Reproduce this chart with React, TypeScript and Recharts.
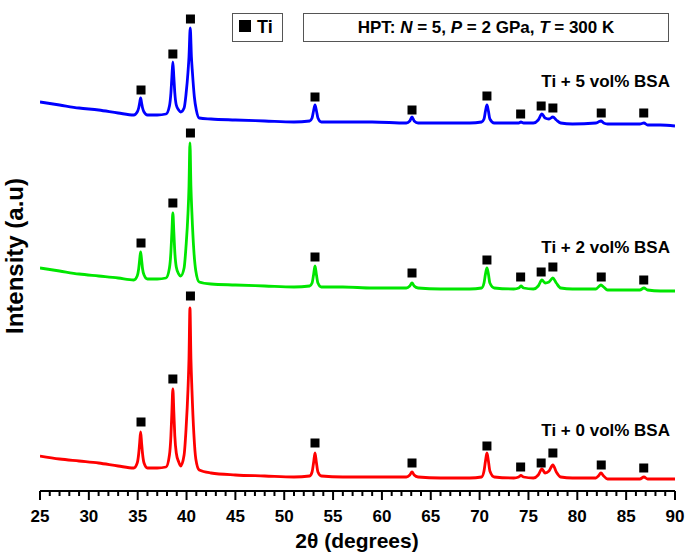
import { ComposedChart, Line, Scatter, XAxis, YAxis } from 'recharts';

// 2theta (deg) vs intensity (a.u., already stacked with offsets)
const ti0Pattern: [number, number][] = [
  [25, 33], [27, 30], [29, 28], [31, 26], [33, 23], [34.6, 21],
  [34.95, 26], [35.1, 35], [35.2, 46], [35.3, 57], [35.4, 46], [35.5, 35], [35.65, 26], [36.0, 21],
  [37.0, 21], [37.9, 22],
  [38.25, 34], [38.4, 53], [38.5, 77], [38.6, 100], [38.7, 77], [38.8, 53], [38.95, 36], [39.2, 27], [39.4, 23],
  [39.75, 34], [39.95, 60], [40.15, 100], [40.25, 130], [40.35, 181], [40.45, 130], [40.55, 100], [40.75, 55], [40.95, 30], [41.3, 19],
  [42.5, 16], [45, 14], [48, 13], [51, 12], [52.6, 13],
  [52.85, 17], [53.0, 26], [53.15, 36], [53.3, 26], [53.45, 17], [53.8, 13],
  [56, 12], [59, 12], [62.5, 12],
  [62.85, 14], [63.08, 17], [63.3, 14], [63.7, 12],
  [66, 11], [69, 11], [70.2, 12],
  [70.45, 18], [70.6, 28], [70.75, 36], [70.9, 28], [71.05, 18], [71.5, 12],
  [73.5, 11], [74.0, 12], [74.23, 13.5], [74.5, 12], [75.5, 11],
  [76.0, 14], [76.38, 20], [76.7, 16], [77.1, 18], [77.5, 24], [77.85, 17], [78.3, 12], [79.5, 11],
  [81.9, 11], [82.15, 13], [82.42, 16], [82.7, 13], [83.1, 10],
  [86.4, 10], [86.82, 12], [87.2, 10], [88.5, 10], [90, 10],
];

const ti2Pattern: [number, number][] = [
  [25, 221], [27, 218], [29, 215], [31, 213], [33, 211], [34.6, 209],
  [34.95, 213], [35.1, 220], [35.2, 229], [35.3, 237], [35.4, 229], [35.5, 220], [35.65, 214], [36.0, 210],
  [37.0, 210], [37.9, 211],
  [38.25, 221], [38.4, 237], [38.5, 257], [38.6, 276], [38.7, 257], [38.8, 237], [38.95, 222], [39.2, 215], [39.4, 213],
  [39.75, 221], [39.95, 243], [40.15, 276], [40.25, 302], [40.35, 346], [40.45, 302], [40.55, 276], [40.75, 238], [40.95, 218], [41.3, 207],
  [42.5, 205], [45, 204], [48, 203], [51, 202], [52.6, 203],
  [52.85, 206], [53.0, 214], [53.15, 223], [53.3, 214], [53.45, 206], [53.8, 202],
  [56, 202], [59, 201], [62.5, 201],
  [62.85, 203], [63.08, 206], [63.3, 203], [63.7, 201],
  [66, 200], [69, 200], [70.2, 201],
  [70.45, 206], [70.6, 215], [70.75, 221], [70.9, 215], [71.05, 206], [71.5, 201],
  [73.5, 200], [74.0, 201], [74.23, 203], [74.5, 201], [75.5, 200],
  [76.0, 203], [76.38, 209], [76.7, 206], [77.1, 207], [77.5, 211], [77.85, 206], [78.3, 201], [79.5, 200],
  [81.9, 200], [82.15, 202], [82.42, 204], [82.7, 202], [83.1, 199],
  [86.4, 199], [86.82, 201], [87.2, 199], [88.5, 198], [90, 198],
];

const ti5Pattern: [number, number][] = [
  [25, 387], [27, 384], [29, 381], [31, 379], [33, 376], [34.6, 374],
  [34.95, 377], [35.1, 381], [35.2, 386], [35.3, 391], [35.4, 386], [35.5, 381], [35.65, 377], [36.0, 374],
  [37.0, 374], [37.9, 375],
  [38.25, 383], [38.4, 396], [38.5, 412], [38.6, 427], [38.7, 412], [38.8, 396], [38.95, 384], [39.2, 379], [39.4, 377],
  [39.75, 381], [39.95, 395], [40.15, 417], [40.25, 432], [40.38, 461], [40.5, 432], [40.6, 417], [40.8, 392], [41.0, 379], [41.3, 371],
  [42.5, 370], [45, 369], [48, 368], [51, 367], [52.6, 368],
  [52.85, 371], [53.0, 378], [53.15, 384], [53.3, 378], [53.45, 371], [53.8, 367],
  [56, 367], [59, 367], [62.5, 366],
  [62.85, 368], [63.08, 372], [63.3, 368], [63.7, 366],
  [66, 366], [69, 366], [70.2, 367],
  [70.45, 370], [70.6, 378], [70.75, 384], [70.9, 378], [71.05, 370], [71.5, 366],
  [73.5, 366], [74.0, 366], [74.23, 367], [74.5, 366], [75.5, 366],
  [76.0, 369], [76.38, 375], [76.7, 371], [77.1, 370], [77.5, 372], [77.85, 369], [78.3, 366], [79.5, 365],
  [81.9, 366], [82.15, 367], [82.42, 368], [82.7, 366], [83.1, 365],
  [86.4, 365], [86.82, 366], [87.2, 364], [88.5, 364], [90, 363],
];

// Ti reflections marked with squares
const peakTheta = [35.34, 38.6, 40.4, 53.15, 63.08, 70.75, 74.2, 76.3, 77.5, 82.45, 86.8];
const ti0Marks = [67, 110, 193, 46, 26, 43, 22, 26, 36, 24, 21];
const ti2Marks = [246, 286, 356, 232, 216, 229, 212, 217, 222, 212, 209];
const ti5Marks = [399, 435, 470, 392, 379, 393, 375, 383, 381, 376, 376];

const xTicks = Array.from({ length: 66 }, (_, i) => 25 + i);

const FONT = '"Liberation Sans", Arial, sans-serif';

const toPoints = (arr: [number, number][]) => arr.map(([x, y]) => ({ x, y }));
const toMarks = (ys: number[]) => peakTheta.map((x, i) => ({ x, y: ys[i] }));

const XTick = (props: any) => {
  const { x, y, payload } = props;
  const v = payload.value;
  const major = v % 5 === 0;
  return (
    <g>
      <line x1={x} x2={x} y1={y} y2={y + (major ? 9 : 5)} stroke="#000" strokeWidth={2} />
      {major && (
        <text x={x} y={y + 31} textAnchor="middle" fontFamily={FONT} fontWeight="bold" fontSize={17} fill="#000">
          {v}
        </text>
      )}
    </g>
  );
};

const SquareMark = (props: any) => (
  <rect x={props.cx - 4.5} y={props.cy - 4.5} width={9} height={9} fill="#000" />
);

const series = [
  { name: 'Ti + 0 vol% BSA', data: ti0Pattern, marks: ti0Marks, color: '#ff0000' },
  { name: 'Ti + 2 vol% BSA', data: ti2Pattern, marks: ti2Marks, color: '#00e600' },
  { name: 'Ti + 5 vol% BSA', data: ti5Pattern, marks: ti5Marks, color: '#0000ff' },
];

export default function App() {
  return (
    <div style={{ position: 'absolute', left: 0, top: 0, width: 685, height: 560, background: '#fff' }}>
      <ComposedChart width={685} height={560} margin={{ top: 3, right: 10, bottom: 0, left: 40 }}>
        <XAxis
          dataKey="x"
          type="number"
          domain={[25, 90]}
          ticks={xTicks}
          interval={0}
          tickSize={0}
          tickMargin={0}
          tick={<XTick />}
          height={69}
          axisLine={{ stroke: '#000', strokeWidth: 2 }}
          allowDataOverflow
        />
        <XAxis
          xAxisId="top"
          orientation="top"
          type="number"
          domain={[25, 90]}
          tick={false}
          tickLine={false}
          height={0}
          axisLine={{ stroke: '#000', strokeWidth: 2 }}
        />
        <YAxis
          dataKey="y"
          type="number"
          domain={[-2, 486]}
          tick={false}
          tickLine={false}
          width={0}
          axisLine={{ stroke: '#000', strokeWidth: 2 }}
          allowDataOverflow
        />
        <YAxis
          yAxisId="right"
          orientation="right"
          type="number"
          domain={[-2, 486]}
          tick={false}
          tickLine={false}
          width={0}
          axisLine={{ stroke: '#000', strokeWidth: 2 }}
        />
        {series.map((s) => (
          <Line
            key={s.name}
            data={toPoints(s.data)}
            dataKey="y"
            type="monotone"
            stroke={s.color}
            strokeWidth={2.8}
            dot={false}
            isAnimationActive={false}
          />
        ))}
        {series.map((s) => (
          <Scatter
            key={s.name + '-marks'}
            data={toMarks(s.marks)}
            dataKey="y"
            shape={<SquareMark />}
            isAnimationActive={false}
          />
        ))}
      </ComposedChart>
      <svg
        width={685}
        height={560}
        style={{ position: 'absolute', left: 0, top: 0, pointerEvents: 'none' }}
        fontFamily={FONT}
        fontWeight="bold"
      >
        <rect x={232.5} y={13.5} width={50} height={28} fill="#fff" stroke="#555" strokeWidth={1} />
        <rect x={239} y={20} width={12} height={12} fill="#000" />
        <text x={257} y={33} fontSize={18}>Ti</text>
        <rect x={303.5} y={13.5} width={365} height={28} fill="#fff" stroke="#555" strokeWidth={1} />
        <text x={486} y={33} fontSize={17} textAnchor="middle">
          HPT: <tspan fontStyle="italic">N</tspan> = 5, <tspan fontStyle="italic">P</tspan> = 2 GPa,{' '}
          <tspan fontStyle="italic">T</tspan> = 300 K
        </text>
        <text x={670} y={87} fontSize={17} textAnchor="end">Ti + 5 vol% BSA</text>
        <text x={670} y={253} fontSize={17} textAnchor="end">Ti + 2 vol% BSA</text>
        <text x={670} y={436} fontSize={17} textAnchor="end">Ti + 0 vol% BSA</text>
        <text x={357} y={548} fontSize={21} textAnchor="middle">2θ (degrees)</text>
        <text x={23} y={256} fontSize={24} textAnchor="middle" transform="rotate(-90 23 256)">
          Intensity (a.u)
        </text>
      </svg>
    </div>
  );
}
